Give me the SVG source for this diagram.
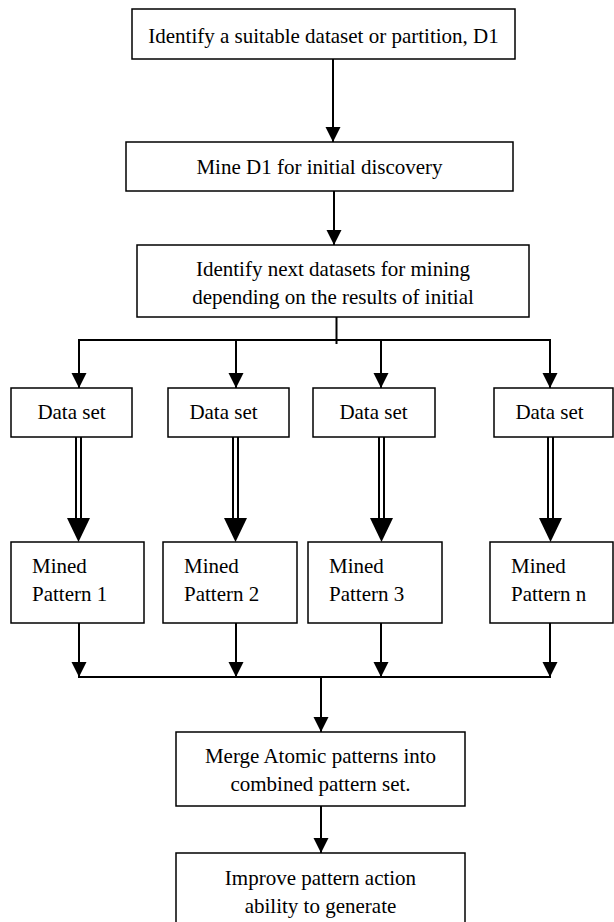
<svg xmlns="http://www.w3.org/2000/svg" width="614" height="922" viewBox="0 0 614 922">
<style>
  .box { fill: #fff; stroke: #000; stroke-width: 1.5; }
  .t { font-family: "Liberation Serif", "Times New Roman", serif; font-size: 21px; fill: #000; }
  .c { text-anchor: middle; }
  .ln { stroke: #000; stroke-width: 2; fill: none; }
  .arr { stroke: #000; stroke-width: 2; fill: none; marker-end: url(#ah); }
  .dl { stroke: #000; stroke-width: 2; fill: none; }
  .head { fill: #000; }
</style>
<defs>
  <marker id="ah" markerUnits="userSpaceOnUse" markerWidth="16" markerHeight="16" viewBox="0 0 16 16" refX="15" refY="8" orient="auto">
    <path d="M0,0.5 L15,8 L0,15.5 z" fill="#000"/>
  </marker>
</defs>
<rect width="614" height="922" fill="#fff"/>

<g id="connectors">
  <line class="arr" x1="333" y1="59" x2="333" y2="142"/>
  <line class="arr" x1="334" y1="191" x2="334" y2="245"/>
  <line class="ln" x1="336.5" y1="317" x2="336.5" y2="344"/>
  <line class="ln" x1="78" y1="340" x2="551" y2="340"/>
  <line class="arr" x1="79" y1="339" x2="79" y2="388"/>
  <line class="arr" x1="236" y1="340" x2="236" y2="388"/>
  <line class="arr" x1="381" y1="340" x2="381" y2="388"/>
  <line class="arr" x1="550" y1="339" x2="550" y2="388"/>

  <g id="dbl1">
    <line class="dl" x1="76" y1="437" x2="76" y2="519"/>
    <line class="dl" x1="81" y1="437" x2="81" y2="519"/>
    <polygon class="head" points="67,518 90,518 78.5,542"/>
  </g>
  <g id="dbl2">
    <line class="dl" x1="233" y1="437" x2="233" y2="519"/>
    <line class="dl" x1="238" y1="437" x2="238" y2="519"/>
    <polygon class="head" points="224,518 247,518 235.5,542"/>
  </g>
  <g id="dbl3">
    <line class="dl" x1="379" y1="437" x2="379" y2="519"/>
    <line class="dl" x1="384" y1="437" x2="384" y2="519"/>
    <polygon class="head" points="370,518 393,518 381.5,542"/>
  </g>
  <g id="dbl4">
    <line class="dl" x1="548" y1="437" x2="548" y2="519"/>
    <line class="dl" x1="553" y1="437" x2="553" y2="519"/>
    <polygon class="head" points="539,518 562,518 550.5,542"/>
  </g>

  <line class="arr" x1="79" y1="623" x2="79" y2="677"/>
  <line class="arr" x1="236" y1="623" x2="236" y2="677"/>
  <line class="arr" x1="381" y1="623" x2="381" y2="677"/>
  <line class="arr" x1="550" y1="623" x2="550" y2="677"/>
  <line class="ln" x1="78" y1="677" x2="551" y2="677"/>
  <line class="arr" x1="321" y1="676" x2="321" y2="732"/>
  <line class="arr" x1="321" y1="806" x2="321" y2="853"/>
</g>

<g id="n1">
  <rect class="box" x="132" y="9" width="383" height="50"/>
  <text class="t c" x="323.5" y="42.5">Identify a suitable dataset or partition, D1</text>
</g>
<g id="n2">
  <rect class="box" x="126" y="142" width="387" height="49"/>
  <text class="t c" x="319.5" y="174">Mine D1 for initial discovery</text>
</g>
<g id="n3">
  <rect class="box" x="137" y="245" width="392" height="72"/>
  <text class="t c" x="333" y="276">Identify next datasets for mining</text>
  <text class="t c" x="333" y="304">depending on the results of initial</text>
</g>

<g id="ds1">
  <rect class="box" x="11" y="388" width="121" height="49"/>
  <text class="t c" x="71.5" y="419">Data set</text>
</g>
<g id="ds2">
  <rect class="box" x="168" y="388" width="121" height="49"/>
  <text class="t c" x="223.5" y="419">Data set</text>
</g>
<g id="ds3">
  <rect class="box" x="313" y="388" width="122" height="49"/>
  <text class="t c" x="373.5" y="419">Data set</text>
</g>
<g id="ds4">
  <rect class="box" x="494" y="388" width="119" height="49"/>
  <text class="t c" x="549.5" y="419">Data set</text>
</g>

<g id="mp1">
  <rect class="box" x="11" y="542" width="133" height="81"/>
  <text class="t" x="32" y="573">Mined</text>
  <text class="t" x="32" y="601">Pattern 1</text>
</g>
<g id="mp2">
  <rect class="box" x="163" y="542" width="134" height="81"/>
  <text class="t" x="184" y="573">Mined</text>
  <text class="t" x="184" y="601">Pattern 2</text>
</g>
<g id="mp3">
  <rect class="box" x="308" y="542" width="134" height="81"/>
  <text class="t" x="329" y="573">Mined</text>
  <text class="t" x="329" y="601">Pattern 3</text>
</g>
<g id="mpn">
  <rect class="box" x="490" y="542" width="123" height="81"/>
  <text class="t" x="511" y="573">Mined</text>
  <text class="t" x="511" y="601">Pattern n</text>
</g>

<g id="merge">
  <rect class="box" x="176" y="732" width="289" height="74"/>
  <text class="t c" x="320.5" y="763">Merge Atomic patterns into</text>
  <text class="t c" x="320.5" y="791">combined pattern set.</text>
</g>
<g id="improve">
  <rect class="box" x="176" y="853" width="289" height="100"/>
  <text class="t c" x="320.5" y="885">Improve pattern action</text>
  <text class="t c" x="320.5" y="913">ability to generate</text>
</g>
</svg>
